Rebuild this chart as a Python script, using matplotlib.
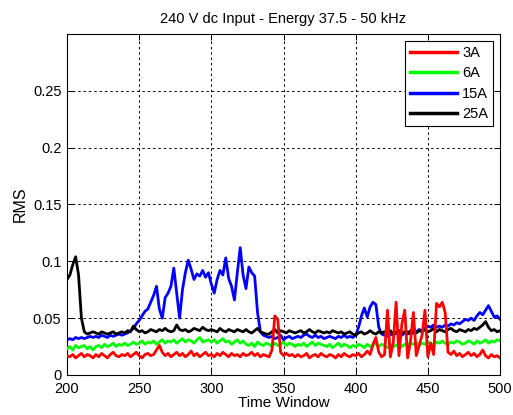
import numpy as np
import matplotlib
matplotlib.use("Agg")
import matplotlib.pyplot as plt

plt.rcParams['font.family'] = ['Liberation Sans', 'DejaVu Sans']

# time window index, one sample every 2 steps
time_window = np.arange(200, 501, 2)

# RMS values in thousandths
rms_3a = [17, 16, 18, 15, 17, 19, 16, 18, 17, 15,
          18, 16, 19, 17, 15, 18, 20, 17, 16, 18,
          17, 19, 16, 18, 20, 17, 15, 18, 19, 17,
          18, 22, 26, 20, 17, 19, 16, 18, 20, 17,
          19, 16, 18, 21, 17, 19, 16, 18, 20, 17,
          18, 16, 19, 17, 20, 18, 16, 19, 17, 18,
          16, 19, 17, 18, 20, 17, 19, 16, 18, 17,
          16, 22, 52, 49, 20, 17, 19, 17, 18, 16,
          18, 16, 17, 19, 15, 17, 18, 16, 19, 17,
          16, 18, 17, 15, 18, 16, 19, 17, 16, 18,
          17, 19, 16, 18, 21, 18, 27, 33, 20, 16,
          18, 57, 16, 28, 64, 17, 45, 57, 15, 30,
          55, 17, 26, 35, 57, 16, 28, 18, 63, 60,
          64, 55, 20, 18, 21, 17, 19, 16, 18, 20,
          17, 19, 16, 18, 22, 17, 15, 18, 16, 17,
          15]
rms_6a = [23, 25, 22, 26, 24, 25, 26, 23, 25, 22,
          25, 26, 24, 27, 25, 26, 28, 25, 27, 26,
          28, 26, 27, 29, 27, 28, 30, 27, 29, 28,
          30, 27, 29, 31, 28, 30, 29, 31, 28, 30,
          32, 29, 31, 30, 28, 31, 33, 29, 30, 31,
          29, 31, 28, 30, 32, 29, 30, 27, 29, 31,
          28, 30, 27, 26, 28, 25, 29, 27, 26, 28,
          27, 25, 28, 26, 27, 29, 26, 28, 27, 25,
          27, 26, 28, 25, 27, 29, 26, 28, 27, 26,
          25, 27, 24, 26, 28, 25, 27, 26, 24, 26,
          25, 27, 26, 24, 27, 25, 26, 28, 25, 27,
          26, 24, 27, 25, 26, 28, 25, 27, 26, 28,
          27, 29, 26, 28, 27, 29, 28, 26, 29, 28,
          30, 28, 27, 29, 28, 30, 29, 27, 28, 30,
          29, 27, 30, 28, 29, 31, 28, 30, 29, 31,
          30]
rms_15a = [31, 32, 31, 33, 32, 33, 32, 33, 34, 33,
           34, 33, 35, 34, 33, 35, 34, 35, 36, 35,
           36, 37, 39, 41, 45, 48, 52, 56, 58, 64,
           70, 78, 58, 50, 68, 72, 78, 94, 72, 50,
           75, 90, 101, 93, 84, 89, 87, 92, 86, 90,
           80, 72, 84, 92, 88, 103, 85, 78, 66, 90,
           112, 88, 76, 95, 90, 87, 55, 38, 35, 34,
           33, 34, 32, 33, 35, 31, 33, 34, 32, 33,
           34, 33, 35, 36, 34, 33, 35, 33, 34, 32,
           33, 34, 33, 32, 34, 33, 35, 33, 34, 33,
           35, 42, 52, 59, 51, 60, 64, 62, 42, 36,
           35, 34, 36, 35, 37, 36, 35, 37, 38, 36,
           37, 38, 40, 39, 41, 43, 42, 44, 42, 43,
           42, 44, 43, 45, 44, 46, 45, 47, 49, 48,
           50, 48, 52, 55, 53, 57, 61, 56, 51, 52,
           49]
rms_25a = [84, 88, 97, 104, 88, 50, 38, 36, 37, 38,
           37, 36, 38, 37, 36, 37, 38, 36, 37, 38,
           37, 39, 38, 43, 40, 38, 39, 37, 38, 40,
           39, 38, 40, 39, 41, 39, 38, 39, 44, 40,
           39, 40, 38, 39, 41, 40, 39, 42, 40, 39,
           40, 39, 38, 41, 39, 38, 40, 39, 38, 40,
           39, 38, 40, 38, 37, 39, 41, 38, 37, 36,
           36, 38, 40, 37, 39, 38, 37, 39, 38, 37,
           38, 39, 37, 38, 40, 38, 37, 39, 38, 37,
           38, 37, 39, 38, 37, 38, 36, 37, 38, 36,
           35, 37, 38, 36, 37, 39, 37, 36, 38, 37,
           38, 37, 39, 36, 38, 39, 37, 38, 36, 39,
           38, 37, 39, 38, 40, 38, 39, 41, 38, 40,
           39, 38, 40, 41, 39, 38, 40, 39, 38, 40,
           39, 41, 40, 42, 44, 47, 42, 39, 40, 38,
           39]

labels = ['3A', '6A', '15A', '25A']
colors = ['#ff0000', '#00ff00', '#0000ff', '#000000']
series = [rms_3a, rms_6a, rms_15a, rms_25a]
zorders = [5, 3, 2, 4]

fig = plt.figure(figsize=(5.13, 4.15), dpi=100)
ax = fig.add_axes([0.1306, 0.0964, 0.8441, 0.8217])

handles = []
for vals, lab, col, z in zip(series, labels, colors, zorders):
    h, = ax.plot(time_window, np.array(vals) / 1000.0, color=col, lw=2.0,
                 label=lab, zorder=z)
    handles.append(h)

ax.set_xlim(200, 500)
ax.set_ylim(0, 0.3)
ax.set_xticks(np.arange(200, 501, 50))
ax.set_yticks([0, 0.05, 0.1, 0.15, 0.2, 0.25])
ax.set_yticklabels(['0', '0.05', '0.1', '0.15', '0.2', '0.25'])
ax.grid(True, color='black', linestyle=(0, (2.5, 3)), linewidth=0.7)
ax.tick_params(direction='in', top=True, right=True, labelsize=10.5,
               length=4, width=0.7)
ax.tick_params(axis='x', pad=5)
ax.tick_params(axis='y', pad=4)
for s in ax.spines.values():
    s.set_linewidth(0.8)

ax.set_title('240 V dc Input - Energy 37.5 - 50 kHz', fontsize=10.5, pad=8)
ax.set_xlabel('Time Window', fontsize=11, labelpad=0)
ax.set_ylabel('RMS', fontsize=11.5, labelpad=4)

leg = ax.legend(handles=handles, loc='upper right', fontsize=10.5,
                fancybox=False, edgecolor='black', framealpha=1,
                handlelength=3.2, handletextpad=0.4, labelspacing=0.45,
                borderaxespad=0.5, borderpad=0.3)
leg.get_frame().set_linewidth(0.8)
for line in leg.get_lines():
    line.set_linewidth(2.5)

fig.savefig('out.png', dpi=100)
